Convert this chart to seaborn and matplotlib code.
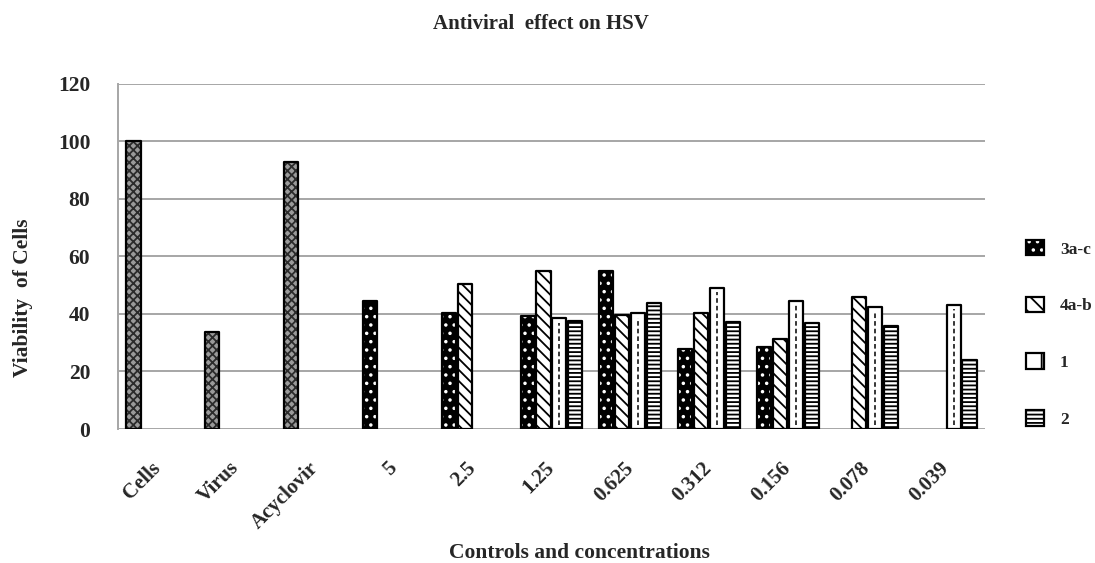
import matplotlib
matplotlib.use("Agg")
import matplotlib.pyplot as plt
from matplotlib.patches import Patch, Rectangle
from matplotlib.legend_handler import HandlerTuple
import seaborn as sns
import pandas as pd
import numpy as np

# values
categories = ["Cells", "Virus", "Acyclovir", "5", "2.5", "1.25",
              "0.625", "0.312", "0.156", "0.078", "0.039"]
controls = ["Cells", "Virus", "Acyclovir"]
series = ["3a-c", "4a-b", "1", "2"]

# first series also carries the control bars (Cells, Virus, Acyclovir)
vals_3ac = [100, 33.8, 92.8, 44.5, 40.2, 39.3, 55.1, 27.8, 28.6, None, None]
vals_4ab = [None, None, None, None, 50.3, 55.1, 39.5, 40.2, 31.2, 46.0, None]
vals_1 = [None, None, None, None, None, 38.5, 40.2, 49.2, 44.5, 42.5, 43.1]
vals_2 = [None, None, None, None, None, 37.7, 43.7, 37.3, 37.0, 35.8, 24.0]

yticks = [0, 20, 40, 60, 80, 100, 120]

rows = []
for name, vals in zip(series, [vals_3ac, vals_4ab, vals_1, vals_2]):
    for cat, v in zip(categories, vals):
        if v is not None:
            rows.append({"Category": cat, "Series": name, "Value": v})
df = pd.DataFrame(rows)

sns.set_theme(style="white")
plt.rcParams["font.family"] = ["Liberation Serif", "DejaVu Serif"]
plt.rcParams["font.weight"] = "bold"
plt.rcParams["hatch.linewidth"] = 1.3

fig = plt.figure(figsize=(10.95, 5.63), dpi=100)
ax = fig.add_axes([0.1078, 0.238, 0.7917, 0.613])

width = 0.81
sns.barplot(data=df, x="Category", y="Value", hue="Series",
            order=categories, hue_order=series, width=width, gap=0.12,
            palette=["black", "white", "white", "white"], legend=False, ax=ax)

slot = width / len(series)
outline_kw = dict(fill=False, edgecolor="black", linewidth=1.6, joinstyle="round", zorder=4)
for p in list(ax.patches):
    x0, y0 = p.get_xy()
    w, h = p.get_width(), p.get_height()
    cx = x0 + w / 2
    ci = int(round(cx))
    si = int(round((cx - ci) / slot + (len(series) - 1) / 2))
    p.set_linewidth(0)
    if si == 0 and categories[ci] in controls:
        p.set_facecolor("#9a9a9a")
        p.set_edgecolor("#2b2b2b")
        p.set_hatch("xxxx")
    elif si == 0:
        p.set_facecolor("black")
        p.set_edgecolor("white")
        p.set_hatch("..")
    elif si == 1:
        p.set_facecolor("white")
        p.set_edgecolor("black")
        p.set_hatch("\\\\\\")
    elif si == 2:
        p.set_facecolor("white")
        p.set_edgecolor("black")
        ax.plot([cx, cx], [y0 + 1.5, y0 + h - 1.5], color="black",
                lw=1.1, ls=(0, (3, 2)), zorder=3)
    else:
        p.set_facecolor("white")
        p.set_edgecolor("black")
        p.set_hatch("----")
    ax.add_patch(Rectangle((x0, y0), w, h, **outline_kw))

ax.set_xlim(-0.5, len(categories) - 0.5)
ax.set_ylim(0, 120)
ax.set_yticks(yticks)
ax.yaxis.grid(True, color="#a6a6a6", linewidth=1.4)
ax.set_axisbelow(True)
for s in ["top", "right", "bottom"]:
    ax.spines[s].set_visible(False)
ax.spines["left"].set_color("#a6a6a6")
ax.spines["left"].set_linewidth(1.4)
ax.tick_params(axis="y", length=6, color="#a6a6a6", width=1.4, pad=14, labelsize=15.5)
ax.tick_params(axis="x", length=0, pad=26, labelsize=15)
plt.setp(ax.get_xticklabels(), rotation=45, ha="right", va="center",
         rotation_mode="anchor", fontweight="bold")
plt.setp(ax.get_yticklabels(), fontweight="bold")

ax.set_xlabel("Controls and concentrations", fontsize=15.5, fontweight="bold")
ax.set_ylabel("Viability  of Cells", fontsize=15.5, fontweight="bold")
ax.xaxis.set_label_coords(0.532, -0.33)
ax.yaxis.set_label_coords(-0.098, 0.38)

fig.text(0.494, 0.958, "Antiviral  effect on HSV", ha="center", va="center",
         fontsize=15, fontweight="bold")

# legend with the same fills as the bars
def box():
    return Patch(fill=False, edgecolor="black", linewidth=1.6)

handles = [
    (Patch(facecolor="black", edgecolor="white", hatch="..", linewidth=0), box()),
    (Patch(facecolor="white", edgecolor="black", hatch="\\\\", linewidth=0), box()),
    (Patch(facecolor="white", edgecolor="black", hatch="|", linewidth=0), box()),
    (Patch(facecolor="white", edgecolor="black", hatch="----", linewidth=0), box()),
]
fig.legend(handles, series, handler_map={tuple: HandlerTuple(ndivide=1, pad=0)},
           loc="center left", bbox_to_anchor=(0.934, 0.407), frameon=False,
           handlelength=1.0, handleheight=1.0, labelspacing=2.25, handletextpad=0.95,
           borderpad=0.2, borderaxespad=0,
           prop={"family": "Liberation Serif", "weight": "bold", "size": 12.5})

fig.savefig("out.png", dpi=100)
